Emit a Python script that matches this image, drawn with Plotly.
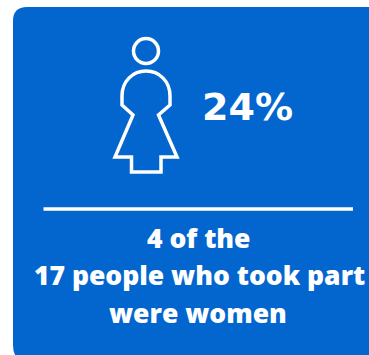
import plotly.graph_objects as go

# Figures shown on the card
women = 4
participants = 17
share_pct = 24

PANEL = "#0366CF"
WHITE = "#FFFFFF"
HEADLINE_FONT = "DejaVu Sans, sans-serif"
BODY_FONT = "Open Sans, sans-serif"

body_path = (
    "M 122,105 L 122,96 C 122,81 133,71 146,71 C 159,71 170,81 170,96 "
    "L 170,105 L 158.5,115 L 177,157 L 161,157 L 161,172 L 131.5,172 "
    "L 131.5,157 L 115,157 L 133,115 Z"
)

body_text = dict(family=BODY_FONT, size=26.5, color=WHITE, weight=800)

fig = go.Figure()
fig.update_layout(
    width=369,
    height=355,
    margin=dict(l=0, r=0, t=0, b=0),
    paper_bgcolor=WHITE,
    plot_bgcolor=WHITE,
    showlegend=False,
    xaxis=dict(range=[0, 369], visible=False, fixedrange=True),
    yaxis=dict(range=[355, 0], visible=False, fixedrange=True),
    shapes=[
        # Card background, running off the right and bottom edges
        dict(type="path", layer="below", fillcolor=PANEL, line=dict(width=0),
             path="M 13,21 Q 13,7 27,7 L 375,7 L 375,361 L 27,361 Q 13,361 13,345 Z"),
        # Head
        dict(type="circle", x0=133.5, y0=38.5, x1=158.5, y1=63.5,
             line=dict(color=WHITE, width=3.5)),
        # Body outline
        dict(type="path", path=body_path, line=dict(color=WHITE, width=3.5)),
        # Divider
        dict(type="line", x0=43.5, x1=353, y0=209, y1=209,
             line=dict(color=WHITE, width=3.5)),
    ],
    annotations=[
        dict(x=200, y=107, xanchor="left", yanchor="middle", showarrow=False,
             text=f"<b>{share_pct}%</b>",
             font=dict(family=HEADLINE_FONT, size=38, color=WHITE)),
        dict(x=198, y=238, xanchor="center", yanchor="middle", showarrow=False,
             text=f"{women} of the", font=body_text),
        dict(x=199, y=275, xanchor="center", yanchor="middle", showarrow=False,
             text=f"{participants} people who took part", font=body_text),
        dict(x=198, y=313, xanchor="center", yanchor="middle", showarrow=False,
             text="were women", font=body_text),
    ],
)

fig.write_html("out.html", config=dict(displayModeBar=False))
